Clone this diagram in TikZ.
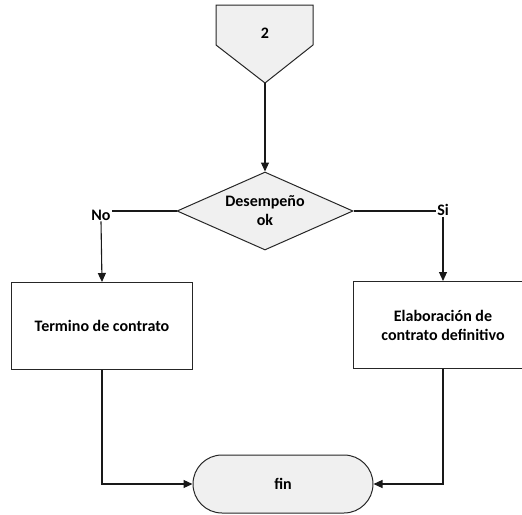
\documentclass[tikz,border=0pt]{standalone}
\usepackage{fontspec}
\setmainfont{Carlito}
\usetikzlibrary{shapes.geometric,shapes.misc,arrows.meta}
\begin{document}
\begin{tikzpicture}[x=1pt,y=-1pt,
  txt/.style={font=\fontsize{16}{19}\selectfont\bfseries},
  grayfill/.style={draw=black!85, line width=1pt, fill=black!6},
  procbox/.style={txt, draw=black!85, line width=1pt, fill=white, rectangle, minimum width=181pt, minimum height=87pt, inner sep=0pt, align=center},
  conn/.style={line width=1.1pt, draw=black!90},
  arr/.style={conn, -{Triangle[length=9pt,width=8pt]}},
  lbl/.style={txt, inner sep=1pt}
]
\useasboundingbox (0,0) rectangle (522,514);
% off-page connector
\draw[grayfill] (216,5) -- (313,5) -- (313,45) -- (265,83) -- (216,45) -- cycle;
\node[lbl] (two) at (265,33) {2};
\coordinate (tip) at (265,83);
% decision
\node[grayfill, txt, diamond, minimum width=176pt, minimum height=78pt, aspect=2.26, inner sep=0pt, align=center] (dec) at (265,211) {Desempeño\\ok};
% process boxes
\node[procbox] (term) at (102,326) {Termino de contrato};
\node[procbox, minimum width=180pt] (elab) at (443,325) {Elaboración de\\contrato definitivo};
% terminator
\node[grayfill, txt, rounded rectangle, minimum width=180pt, minimum height=58pt, inner sep=0pt] (fin) at (283,484) {fin};
% labels
\node[lbl] (no) at (101,215) {No};
\node[lbl] (si) at (443,210) {Si};
% connectors
\draw[arr] (tip) -- (dec.north);
\draw[conn] (dec.west) -- (no.east |- dec.west);
\draw[arr] (no.south) -- (term.north);
\draw[conn] (dec.east) -- (si.west |- dec.east);
\draw[arr] (si.south) -- (elab.north);
\draw[arr] (term.south) |- (fin.west);
\draw[arr] (elab.south) |- (fin.east);
\end{tikzpicture}
\end{document}
